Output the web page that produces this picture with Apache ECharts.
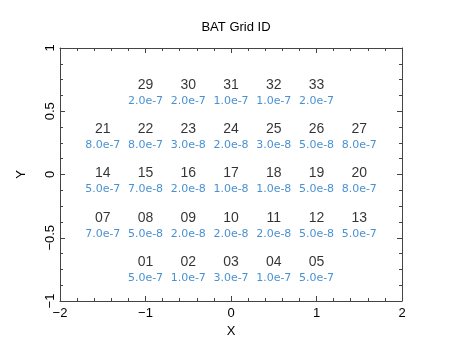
<!DOCTYPE html>
<html>
<head>
<meta charset="utf-8">
<script src="https://cdn.jsdelivr.net/npm/echarts@6/dist/echarts.min.js"></script>
<style>
  html, body { margin: 0; padding: 0; background: #fff; }
  #chart { width: 457px; height: 343px; }
</style>
</head>
<body>
<div id="chart"></div>
<script>
  // grid cells: id, position and value
  var gridIds = ['29', '30', '31', '32', '33',
    '21', '22', '23', '24', '25', '26', '27',
    '14', '15', '16', '17', '18', '19', '20',
    '07', '08', '09', '10', '11', '12', '13',
    '01', '02', '03', '04', '05'];
  var gridX = [-1, -0.5, 0, 0.5, 1,
    -1.5, -1, -0.5, 0, 0.5, 1, 1.5,
    -1.5, -1, -0.5, 0, 0.5, 1, 1.5,
    -1.5, -1, -0.5, 0, 0.5, 1, 1.5,
    -1, -0.5, 0, 0.5, 1];
  var gridY = [0.7, 0.7, 0.7, 0.7, 0.7,
    0.35, 0.35, 0.35, 0.35, 0.35, 0.35, 0.35,
    0, 0, 0, 0, 0, 0, 0,
    -0.35, -0.35, -0.35, -0.35, -0.35, -0.35, -0.35,
    -0.7, -0.7, -0.7, -0.7, -0.7];
  var gridVals = ['2.0e-7', '2.0e-7', '1.0e-7', '1.0e-7', '2.0e-7',
    '8.0e-7', '8.0e-7', '3.0e-8', '2.0e-8', '3.0e-8', '5.0e-8', '8.0e-7',
    '5.0e-7', '7.0e-8', '2.0e-8', '1.0e-8', '1.0e-8', '5.0e-8', '8.0e-7',
    '7.0e-7', '5.0e-8', '2.0e-8', '2.0e-8', '2.0e-8', '5.0e-8', '5.0e-7',
    '5.0e-7', '1.0e-7', '3.0e-7', '1.0e-7', '5.0e-7'];

  var font = 'Liberation Sans, Arial, Helvetica, sans-serif';
  var axisColor = '#444';

  var points = gridIds.map(function (id, i) {
    return [gridX[i], gridY[i], id, gridVals[i]];
  });

  var chart = echarts.init(document.getElementById('chart'));

  var baseX = {
    type: 'value', min: -2, max: 2, interval: 1,
    axisLine: { show: true, onZero: false, lineStyle: { color: axisColor, width: 1 } },
    axisTick: { show: true, inside: true, length: 5, lineStyle: { color: axisColor } },
    minorTick: { show: true, splitNumber: 5, length: 3, lineStyle: { color: axisColor } },
    splitLine: { show: false },
    axisLabel: {
      color: '#000', fontSize: 13, fontFamily: font, margin: 6,
      formatter: function (v) { return String(v).replace('-', '\u2212'); }
    }
  };
  var baseY = {
    type: 'value', min: -1, max: 1, interval: 0.5,
    axisLine: { show: true, onZero: false, lineStyle: { color: axisColor, width: 1 } },
    axisTick: { show: true, inside: true, length: 5, lineStyle: { color: axisColor } },
    minorTick: { show: true, splitNumber: 4, length: 3, lineStyle: { color: axisColor } },
    splitLine: { show: false },
    axisLabel: {
      color: '#000', fontSize: 13, fontFamily: font, margin: 10, rotate: 90,
      verticalAlign: 'middle', align: 'center',
      formatter: function (v) { return String(v).replace('-', '\u2212'); }
    }
  };

  var option = {
    backgroundColor: '#fff',
    animation: false,
    title: {
      text: 'BAT Grid ID',
      left: 231, top: 16, textAlign: 'center',
      textStyle: { color: '#000', fontSize: 13, fontWeight: 'normal', fontFamily: font }
    },
    grid: { left: 60, right: 55, top: 48, bottom: 42 },
    xAxis: [
      Object.assign({}, baseX, {
        position: 'bottom',
        name: 'X', nameLocation: 'middle', nameGap: 22,
        nameTextStyle: { color: '#000', fontSize: 13, fontFamily: font }
      }),
      Object.assign({}, baseX, { position: 'top', axisLabel: { show: false } })
    ],
    yAxis: [
      Object.assign({}, baseY, {
        position: 'left',
        name: 'Y', nameLocation: 'middle', nameGap: 32, nameRotate: 90,
        nameTextStyle: { color: '#000', fontSize: 13, fontFamily: font }
      }),
      Object.assign({}, baseY, { position: 'right', axisLabel: { show: false } })
    ],
    series: [
      {
        type: 'scatter', symbolSize: 1, itemStyle: { color: 'rgba(0,0,0,0)' },
        data: points,
        label: {
          show: true, position: 'inside', offset: [0, -1],
          color: '#000', fontSize: 14, fontFamily: font,
          formatter: function (p) { return p.data[2]; }
        }
      },
      {
        type: 'scatter', symbolSize: 1, itemStyle: { color: 'rgba(0,0,0,0)' },
        data: points,
        label: {
          show: true, position: 'inside', offset: [0, 15],
          color: '#1a74c6', fontSize: 11, fontFamily: 'DejaVu Sans, sans-serif',
          formatter: function (p) { return p.data[3]; }
        }
      }
    ]
  };
  chart.setOption(option);
</script>
</body>
</html>
